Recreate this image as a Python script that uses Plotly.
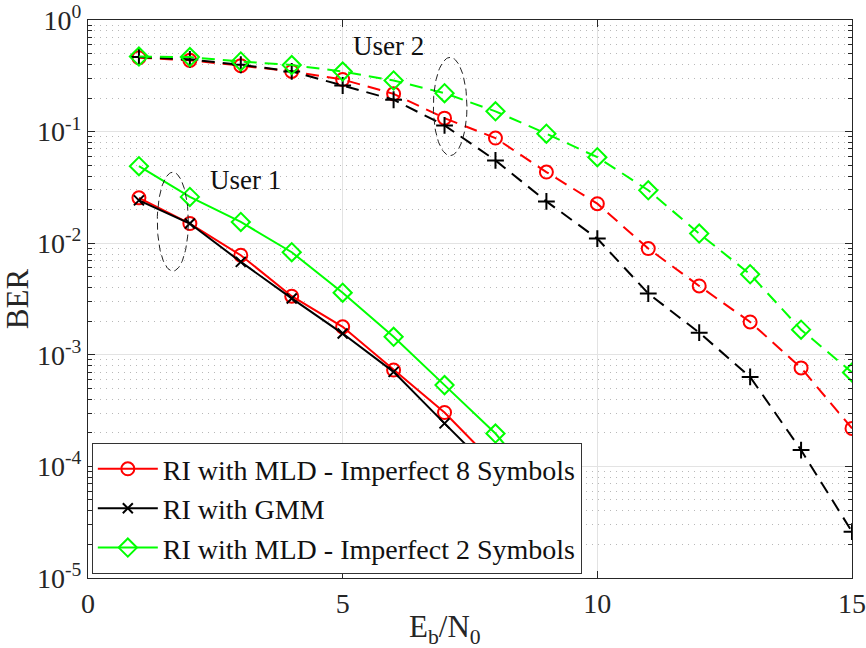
import numpy as np
import plotly.graph_objects as go

# Eb/N0 grid (dB)
ebn0 = list(range(1, 16))
ebn0_u1 = list(range(1, 10))

# User 1 BER (solid curves)
u1_mld8 = [0.0255, 0.015, 0.0078, 0.00335, 0.00178, 0.00073, 0.000304, 0.000104, 3.6e-5]
u1_gmm = [0.0242, 0.015, 0.0068, 0.0032, 0.00155, 0.000703, 0.000243, 8.5e-5, 2.8e-5]
u1_mld2 = [0.049, 0.026, 0.0155, 0.0083, 0.0036, 0.00145, 0.000535, 0.000197, 5.6e-5]

# User 2 BER (dashed curves)
u2_mld8 = [0.46, 0.435, 0.39, 0.346, 0.293, 0.218, 0.132, 0.0875, 0.0434, 0.0226,
           0.00895, 0.00414, 0.00197, 0.000763, 0.000219]
u2_gmm = [0.465, 0.443, 0.397, 0.346, 0.259, 0.193, 0.1137, 0.0552, 0.0237, 0.011,
          0.00354, 0.00158, 0.000634, 0.00014, 2.6e-5]
u2_mld2 = [0.47, 0.465, 0.425, 0.395, 0.345, 0.287, 0.221, 0.152, 0.0957, 0.059,
           0.0298, 0.0122, 0.00527, 0.00168, 0.000695]

names = ["RI with MLD - Imperfect 8 Symbols", "RI with GMM", "RI with MLD - Imperfect 2 Symbols"]
colors = ["#ff0000", "#000000", "#00ff00"]
symbols = ["circle-open", "x-thin-open", "diamond-open"]
u2_symbols = ["circle-open", "cross-thin-open", "diamond-open"]
sizes = [13, 10, 14]

y_major = [1e-5, 1e-4, 1e-3, 1e-2, 1e-1, 1]
y_major_text = ["10<sup>-5</sup>", "10<sup>-4</sup>", "10<sup>-3</sup>",
                "10<sup>-2</sup>", "10<sup>-1</sup>", "10<sup>0</sup>"]
y_minor = [k * 10.0 ** e for e in range(-5, 0) for k in range(2, 10)]
x_major = [0, 5, 10, 15]

# grouping ellipses: centre x, half-width x, centre log10(y), half-height in decades
ellipse_specs = [(1.665, 0.305, -1.807, 0.443), (7.11, 0.33, -0.775, 0.44)]

FONT = "Liberation Serif"
dash = "13px,8px"

fig = go.Figure()

for ys, nm, c, s, sz in zip([u1_mld8, u1_gmm, u1_mld2], names, colors, symbols, sizes):
    fig.add_trace(go.Scatter(
        x=ebn0_u1, y=ys, name=nm, mode="lines+markers",
        line=dict(color=c, width=2),
        marker=dict(symbol=s, size=sz, color=c, line=dict(color=c, width=2)),
    ))

for ys, nm, c, s, sz in zip([u2_mld8, u2_gmm, u2_mld2], names, colors, u2_symbols, sizes):
    fig.add_trace(go.Scatter(
        x=ebn0, y=ys, name=nm, mode="lines+markers", showlegend=False,
        line=dict(color=c, width=2, dash=dash),
        marker=dict(symbol=s, size=sz + (2 if s.startswith("cross") else 0), color=c,
                    line=dict(color=c, width=2)),
    ))

t = np.linspace(0, 2 * np.pi, 121)
for cx, rx, cy, ry in ellipse_specs:
    fig.add_trace(go.Scatter(
        x=cx + rx * np.cos(t), y=10 ** (cy + ry * np.sin(t)),
        mode="lines", showlegend=False, hoverinfo="skip",
        line=dict(color="#222222", width=1, dash="7px,4px"),
    ))

fig.add_annotation(x=3.1, y=-1.437, xref="x", yref="y", text="User 1", showarrow=False,
                   font=dict(family=FONT, size=27, color="#111111"))
fig.add_annotation(x=5.9, y=-0.237, xref="x", yref="y", text="User 2", showarrow=False,
                   font=dict(family=FONT, size=27, color="#111111"))

# x-axis title
fig.add_annotation(x=0.467, y=-0.052, xref="paper", yref="paper", yanchor="top",
                   text="E<sub>b</sub>/N<sub>0</sub>", showarrow=False,
                   font=dict(family=FONT, size=31, color="#262626"))

axis_common = dict(
    showline=True, linecolor="#262626", linewidth=1, mirror="allticks",
    ticks="inside", ticklen=7, tickcolor="#262626",
    showgrid=True, gridcolor="#e3e3e3", gridwidth=1,
    zeroline=False, automargin=False,
    tickfont=dict(family=FONT, size=28, color="#262626"),
)

fig.update_xaxes(**axis_common, range=[0, 15], tickmode="array", tickvals=x_major)
fig.update_yaxes(
    **axis_common, type="log", range=[-5, 0], tickmode="array",
    tickvals=y_major, ticktext=y_major_text,
    minor=dict(tickmode="array", tickvals=y_minor, ticks="inside", ticklen=4,
               tickcolor="#262626", showgrid=True, gridcolor="#b8b8b8",
               griddash="1px,5px", gridwidth=1),
    title=dict(text="BER", font=dict(family=FONT, size=31, color="#262626"), standoff=6),
)

fig.update_layout(
    width=866, height=648,
    margin=dict(l=88, r=14, t=20, b=70),
    plot_bgcolor="white", paper_bgcolor="white",
    font=dict(family=FONT, color="#111111"),
    legend=dict(
        x=0.005, y=0.007, xanchor="left", yanchor="bottom",
        bgcolor="white", bordercolor="#333333", borderwidth=1,
        font=dict(family=FONT, size=28, color="#111111"),
        itemwidth=60, tracegroupgap=0,
    ),
)

fig.write_html("out.html")
